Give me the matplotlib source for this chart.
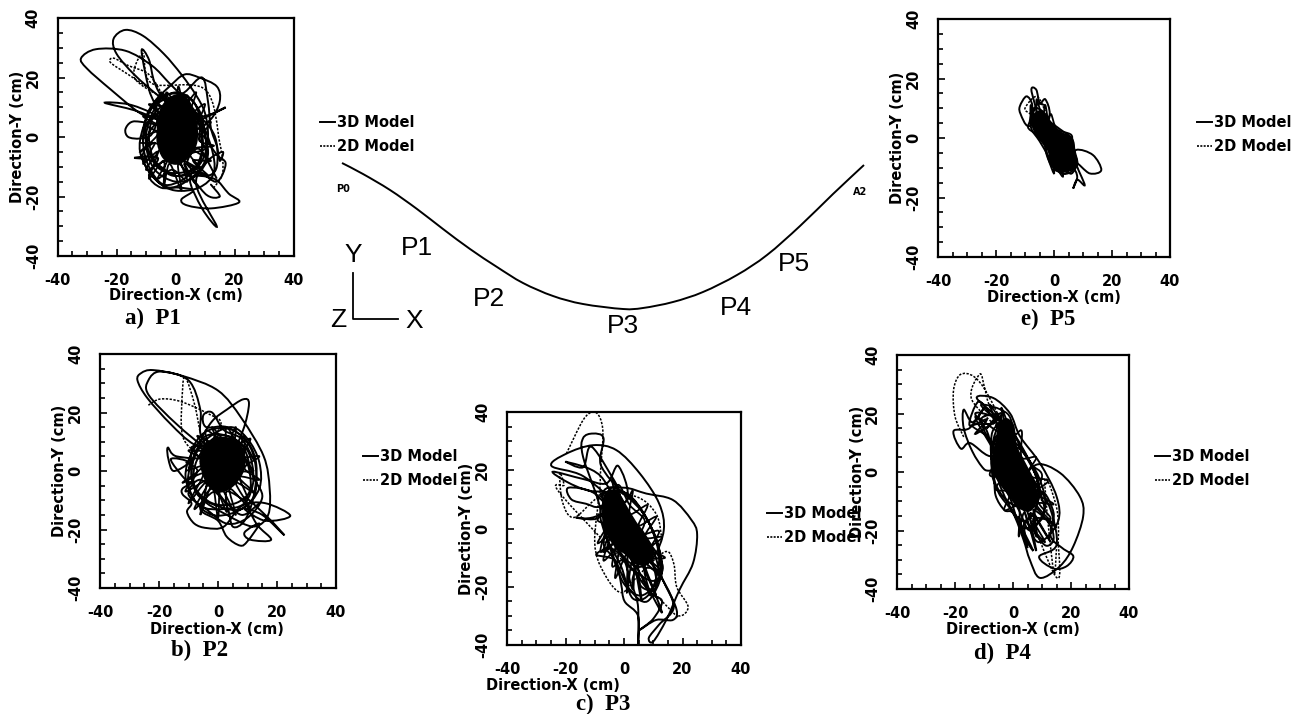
import numpy as np
import matplotlib
matplotlib.use("Agg")
import matplotlib.pyplot as plt
from matplotlib.legend import Legend
from matplotlib.lines import Line2D
from matplotlib.path import Path
from matplotlib.patches import PathPatch

W, H = 1304, 714

# orbit data, (x, y) in cm
# _3d, _loops and _mesh: the solid trace, _core: outline of the solid black middle, _2d: the dotted trace
p1_3d = [(2,8),(-6,14),(-14,21),(-20,28),(-21,33),(-17,36),(-11,34),(-4,28),(2,21),(7,14),(10,8),(11,0),(9,-8),(3,-14),
         (-4,-16),(-9,-10),(-11,-2),(-10,6),(-7,12),(-2,17),(3,21),(8,20),(14,17),(15,12),(12,6),(6,2),(0,3),(-8,8),(-16,11),(-24,11.5),
         (-14,9),(-6,6),(-12,8),(-22,16),(-30,23),(-32,26.5),(-27,29.5),(-17,29),(-8,24),(-2,18),(4,12),(9,7),(17,10),(10,6.5),(2,3),
         (-11,5),(-15,5),(-17,2.5),(-16,0),(-12,-0.5),(-8,1),(-6,8),(-9,16),(-11.5,29),(-9,26),(-7,18),(-3,12),(3,15),(9,20),(11,12),
         (12,3),(14,-3),(15,-8),(16,-5),(11,-8),(7,-16),(14,-30),(9,-24),(5,-14),(13,-14),(18,-19),(21.5,-22),(12,-24),(4,-23),(2,-21),
         (6,-18),(1,-17),(-5,-17),(-9,-13),(-6,-7),(-14,-7),(-8,-8),(0,-13),(8,-12),(14,-15),(17,-9),(14,-6),(8,1),(3,-8),(10,-19),(15,-20),(12,-16)]
p1_loops = [(-11,2),(-9,9),(-4,14),(3,14),(8,9),(10,1),(10,-8),(5,-14),(-2,-17),(-8,-13),(-12,-5),(-11,3),(-7,11),(0,15),(6,12),(9,4),(11,-6),(7,-13),(0,-15),
            (-7,-11),(-10,-3),(-9,5),(-5,12),(2,12),(8,6),(9,-4),(6,-11),(-1,-13),(-7,-8),(-9,0),(-7,8),(-2,11),(5,10),(9,0),(8,-9),(2,-12),(-5,-11),(-9,-5),(-10,4),
            (-3,9),(7,7),(12,-3),(13,-12),(8,-17),(0,-18),(-6,-15),(-11,-8),(-10,-3),(-7,4),(5,8),(13,1),(14,-10),(10,-13),(4,-9),(8,-4),(14,-14)]
p1_mesh = [(-12,0),(-5,3),(-11,7),(-4,7),(-9,11),(-2,10),(-5,15),(0,12),(1,17),(3,11),(7,15),(5,8),(10,11),(7,3),(12,5),(8,-1),(13,-3),(6,-4),(12,-8),(6,-8),(11,-13),
           (3,-9),(7,-16),(1,-9),(2,-18),(-2,-9),(-4,-17),(-4,-8),(-9,-14),(-6,-5),(-11,-9),(-7,-2),(-12,-5),(-6,1),(-10,4),(-7,7),(-7,12),(-3,9),(-3,15),(2,9),(4,14),(6,6),
           (9,7),(8,0),(10,-4),(5,-6),(9,-11),(2,-8),(4,-15),(-1,-11),(-6,-14),(-3,-8),(-10,-11),(-5,-3),(-12,-2)]
p1_core = [(-6,3),(-5,9),(-2,13),(2,14),(5,11),(7,5),(7,-2),(4,-7),(0,-9),(-4,-7),(-6,-2),(-6,3)]
p1_2d = [(-10,17),(-16,21),(-22,25),(-21,26.5),(-16,24),(-9,21),(-5,14),(-14,20),(-11,28),(-8,18),(10,16),(15,-2),(16,-12),(13,-17)]

p2_3d = [(4,4),(-8,9),(-16,16),(-24,25),(-27.3,31),(-26,33.5),(-22,34.5),(-12,32.5),(0,27.5),(8,18),(15.5,5),(17.5,-6),(17,-15),(12,-19),(3,-15),(-6,-9),
         (-9,0),(-6,10),(-2,17),(3,21),(8.5,24.5),(10.5,23),(8.5,14),(4,6),(-4,8),(-14,16),(-23.5,26),(-23.6,31),(-19.6,34),(-10,31),(-6,21),(-6,13),(-3,5),
         (-14,5),(-17,8),(-16.8,4),(-15,0),(-10,3),(-16,4),(-11,-3),(-9,-4),(-12,-6),(-12,-8),(-9,-11),(-10.5,-14),(-8,-18),(-3.8,-19.5),(2,-19),(8,-12),
         (16,-11),(24.5,-15.3),(16,-17),(9,-13),(15,-15),(22.5,-22),(17,-16),(9,-9),(13,-18),(18,-23.5),(11,-23.5),(9,-21),(14,-18),(10,-24),(7.5,-25.5),(3,-22.5),
         (0,-17),(-6,-13),(-2,-6),(3,-12),(5,-19),(9,-17),(12,-9),(13,2),(10,10),(3,15),(-4,15),(-5,19),(-2,20),(2,14),(8,11),(12,4)]
p2_loops = [(-10,0),(-8,9),(-3,14),(5,14),(11,8),(13,-1),(12,-9),(6,-14),(-2,-15),(-8,-10),(-11,-2),(-9,6),(-4,12),(3,12),(10,7),(12,-3),(9,-11),(2,-13),(-6,-12),(-10,-5),
            (-9,3),(-5,10),(4,15),(10,11),(14,3),(14,-6),(8,-13),(0,-12),(-7,-8),(-9,0),(-6,8),(2,10),(9,5),(11,-6),(6,-11),(-2,-11),(-8,-5),(-7,4),(0,12),(8,9),(12,-2),(15,-9),
            (10,-16),(3,-18),(-4,-13),(-10,-8),(-6,-3),(1,-9),(8,-15),(14,-11)]
p2_mesh = [(-11,0),(-4,3),(-10,7),(-3,7),(-7,12),(0,9),(-2,15),(3,10),(6,15),(6,9),(11,11),(8,5),(14,5),(9,1),(14,-3),(7,-2),(13,-8),(6,-4),(11,-13),(4,-6),(6,-15),(1,-6),
           (0,-16),(-2,-5),(-6,-15),(-4,-4),(-10,-11),(-5,-1),(-12,-4),(-5,2),(-9,8),(-4,9),(-4,14),(2,10),(3,15),(7,9),(9,12),(9,4),(12,0),(7,-1),(10,-10),(3,-7),(3,-14),
           (-1,-7),(-8,-13),(-3,-3),(-11,-7),(-7,0),(-11,3)]
p2_core = [(-6,3),(-5,8),(-1,11),(4,11),(8,8),(9,3),(8,-1),(5,-5),(1,-7),(-3,-5),(-5,-1),(-6,3)]
p2_2d = [(-23.6,22.5),(-19.6,24.6),(-12.8,23.8),(-3.8,19.8),(1,16),(-6,7),(-12,12),(-12,28),(-11,32),(-8,23),(-6,13)]

p3_3d = [(-2,8),(-14,18),(-24.8,21.5),(-19.7,25.7),(-10.6,28.6),(-2.6,26.9),(5.4,18.9),(12,8.6),(13.6,-0.5),(10,-10),(4,-13),(-3,-5),(-7.2,12),(0,14),(7.6,12),
         (16.7,9.8),(23,3),(25,-2),(23.6,-11.9),(19,-21),(14.5,-31.3),(10,-38.8),(8.5,-37.5),(12,-33),(17,-27),(13,-17),(9,-7),(3,-17),(4.8,-26.8),(4.8,-39.9),(4.8,-30),
         (0.2,-25),(-1,-19),(-3,-11),(-9.5,-9),(-4,-7),(2,-13),(9,-22),(13,-25),(10,-31),(5.4,-34.8),(11,-31.4),(16.7,-31.4),(18,-28),(14,-19),(8,-10),(0,-3),
         (-7,-8),(-4,3),(-10,12),(-19,14),(-18,10),(-13,8.5),(-8.3,7.5),(-2,12),(-12,13),(-19.5,16),(-24.3,19.5),(-14,17),(-6,15.5),(-2,21.5),(1,10),(-10,4),(-16.3,3.8),(-8,5),
         (-14,24.6),(-14,31),(-10.6,32.6),(-7,31),(-8,22),(-2,14),(-11,28),(-14,21),(-20,23),(-8,18),(0,2),(8,-16),(13,-29),(6,-16)]
p3_loops = [(-7,9),(-4,14),(3,10),(9,1),(12,-7),(12,-17),(6,-23),(0,-19),(-4,-9),(-7,2),(-6,11),(1,12),(8,3),(12,-10),(9,-22),(3,-24),(-1,-13),(-6,-3),(-8,6),(-3,13),(6,6),(11,-4),(13,-15),(8,-25),
            (2,-21),(-3,-11),(-7,-5),(-3,2),(3,-12),(6,-20),(11,-20),(9,-9),(3,3),(-3,10),(5,0),(13,-12),(10,-18),(2,-13),(-4,-4),(-7,4)]
p3_mesh = [(-9,5),(-4,3),(-8,12),(-3,9),(-4,17),(0,9),(3,13),(2,5),(8,8),(5,1),(11,4),(7,-3),(13,-3),(9,-7),(14,-10),(9,-11),(13,-17),(7,-12),(11,-23),(5,-11),(6,-25),(3,-11),(1,-22),
           (1,-9),(-3,-17),(-2,-7),(-7,-11),(-5,-3),(-9,-5),(-6,1),(-9,3),(-5,8),(-2,15),(2,8),(7,3),(6,-2),(12,-1),(8,-9),(12,-14),(7,-14),(9,-23),(4,-13),(3,-21),(0,-11),(-4,-13),
           (-3,-5),(-8,-8),(-6,0)]
p3_core = [(-7,10),(-5,13),(-2,12),(1,7),(4,2),(7,-2),(10,-8),(8,-12),(4,-12),(1,-9),(-3,-6),(-6,-1),(-7,4),(-7,10)]
p3_2d = [(-19.7,25.7),(-14,37.2),(-10.6,40),(-8.3,38.2),(-7.2,32.6),(-8,20),(-8.3,13.2),(-10,-5),(-7,-15),(-1,-22),(5,-16),
         (14,-8),(17,-12),(18,-20),(21.9,-26.8),(19,-30),(14,-26),(-21,11),(-20.5,15),(-22,19),(-21,9),(-17,3.8),(-8,11),(4,11),(11,5),(13,-4)]

p4_3d = [(2,6),(-5,18),(-12.5,25.3),(-6.8,25.3),(-1,20),(2.4,12.2),(9.3,3),(15,-8.3),(15.5,-17),(9,-24),(5,-17),(3,-5),(8.1,2.5),(16.2,-.3),(23,-8.3),(24.2,-15.1),
         (20.8,-25.4),(16.2,-32.2),(9.3,-36.2),(5.8,-30),(3.6,-23.1),(0,-14),(-5,-7),(-7,1),(-1,8),(-7.9,5.4),(-14.8,9.9),(-18,8),(-20.5,14),(-15,15),(-10,22),(-14,17),(-17,21.3),
         (-17,15),(-14,7),(-10,1),(-6.8,-.3),(-6,-8),(-3,-13),(0,-14),(4,-21),(7,-27),(3,-20),(7,-15),(8,-22),(4,-9),(12,-17),(14,-23),(11,-25),(7,-18),(10,-7),
         (14,-14),(13,-22),(17,-26),(20.8,-28.8),(18.5,-32.2),(14,-33),(9,-29),(15,-25),(13,-13),(8,-4),(3,3),(-3,13),(-8,20),(-12,24),(-15,16),(-9,18),(-13,13),(-5,18)]
p4_loops = [(-5,20),(-11,18),(-7,10),(-4,19),(-9,15),(-4,20),(-7,8),(2,8),(8,-1),(8,-10),(3,-12),(-3,-9),(-7,-1),(-7,9),(-2,12),(4,6),(9,-5),(7,-14),(2,-16),(-5,-3),(-6,12),(3,3),(10,-9),(10,-16),(3,-19),
            (-1,-9),(-7,3),(-7,14),(-2,16),(3,8),(9,-2),(11,-12),(6,-20),(2,-13),(-5,1),(-9,14),(-13,20),(-7,19),(-1,15),(7,1),(10,-10)]
p4_mesh = [(-7,8),(-13,19),(-5,14),(-8,23),(-3,16),(-4,22),(0,13),(3,14),(3,5),(8,5),(5,-1),(12,-3),(8,-7),(14,-11),(8,-11),(15,-19),(7,-13),(13,-24),(6,-14),(8,-27),(4,-14),(2,-22),(2,-12),
           (-3,-13),(-1,-7),(-6,-6),(-4,-2),(-8,-1),(-6,5),(-9,12),(-14,16),(-6,17),(-11,23),(-2,20),(1,12),(6,3),(10,-1),(8,-9),(13,-16),(7,-16),(11,-24),(4,-17),(5,-26),(2,-15)]
p4_core = [(-7,5),(-5,13),(-3,18),(0,16),(1,9),(4,3),(7,-3),(8,-9),(6,-13),(2,-12),(-2,-7),(-5,-3),(-7,1),(-7,5)]
p4_2d = [(-17,12),(-20,19),(-20.5,28),(-18.2,33.3),(-13.6,32.7),(-9,27),(-3,14),(-14.2,24.7),(-11.4,33.5),(-9.6,28.1),(-6.8,19),(14,-34.5),(15.6,-23.1),(15,-12),(11,-3),(14,-34),(15,-26)]

p5_3d = [(-5,6),(-9,4),(-11.5,8),(-11.8,10.6),(-9.5,14),(-7.5,11),(-8.4,4.9),(-6,8),(-7.8,16.2),(-6.1,16.2),(-4.9,11.7),(-3,13),(-1.5,8),(-4,2),(0,-1),(-3,-3),(-1,-9),(3,-12),
         (5,-11),(6,-8),(7.7,-4),(13.4,-5.7),(16.3,-10.8),(12.3,-11.9),(7.7,-8.5),(10.6,-15.8),(8,-14),(6.6,-17),(8,-13),(6,-10),(0,-11)]
p5_loops = [(-8,5),(-7,10),(-4,9),(-2,6),(2,3),(6,0),(7,-4),(7,-10),(4,-12),(0,-10),(-2,-6),(-5,-1),(-8,4),(-6,11),(-3,11)]
p5_mesh = [(-8,5),(-8,11),(-6,5),(-6,13),(-4,7),(-3,11),(-2,6),(-1,8),(1,3),(6,1),(6,-3),(8,-8),(6,-12),(3,-10),(3,-13),(0,-9),(0,-12),(-2,-7),(-3,-3),(-6,1),(-9,4),(-5,9)]
p5_core = [(-8,7),(-5,9),(-3,8),(-1,5),(2,2),(6,0),(7,-4),(8,-9),(5,-11),(1,-11),(-1,-8),(-2,-4),(-5,0),(-7,3),(-8,7)]
p5_2d = [(-8,8),(-10,10),(-6,14),(-3,9)]

# curve of the cable, pixel positions in the page
cable_x = [342,363,390,417,443,470,497,523,553,583,623,643,673,703,737,767,800,833,864]
cable_y = [163,174,190,209,229,249,267,283,296,304,309,308,302,292,275,255,226,194,165]

point_labels = ["P1", "P2", "P3", "P4", "P5"]
point_lx = [417, 489, 623, 736, 794]
point_ly = [248, 299, 326, 308, 264]

major = [-40, -20, 0, 20, 40]
minor = list(range(-40, 41, 5))

# panel layout: box in pixels (left, right, top, bottom)
panels = [
    dict(box=(57.5, 293.5, 18, 256), series=(p1_3d, p1_loops, p1_mesh, p1_core, p1_2d), cap="a)  P1", xl=(176, 296), cp=(153, 318), leg=(320, 115)),
    dict(box=(100, 336, 354, 588), series=(p2_3d, p2_loops, p2_mesh, p2_core, p2_2d), cap="b)  P2", xl=(217, 629), cp=(200, 650), leg=(363, 449)),
    dict(box=(507, 741, 412, 645), series=(p3_3d, p3_loops, p3_mesh, p3_core, p3_2d), cap="c)  P3", xl=(553, 685), cp=(603, 704), leg=(767, 506)),
    dict(box=(897, 1129, 355, 589), series=(p4_3d, p4_loops, p4_mesh, p4_core, p4_2d), cap="d)  P4", xl=(1013, 630), cp=(1002, 653), leg=(1155, 449)),
    dict(box=(938, 1170, 19, 257), series=(p5_3d, p5_loops, p5_mesh, p5_core, p5_2d), cap="e)  P5", xl=(1054, 298), cp=(1048, 319), leg=(1197, 115)),
]


def smooth_path(points):
    """Cubic curve running through the read points"""
    pts = np.array(points, dtype=float)
    verts = [pts[0]]
    codes = [Path.MOVETO]
    for i in range(len(pts) - 1):
        before = pts[max(i - 1, 0)]
        after = pts[min(i + 2, len(pts) - 1)]
        verts += [pts[i] + (pts[i + 1] - before) / 6, pts[i + 1] - (after - pts[i]) / 6, pts[i + 1]]
        codes += [Path.CURVE4] * 3
    return Path(verts, codes)


plt.rcParams["font.family"] = ["DejaVu Sans"]
plt.rcParams["axes.unicode_minus"] = False
fig = plt.figure(figsize=(W / 100, H / 100), dpi=100, facecolor="white")

# page axes in pixels for the middle sketch and the captions
page = fig.add_axes([0, 0, 1, 1], zorder=5)
page.set_xlim(0, W)
page.set_ylim(H, 0)
page.axis("off")
page.patch.set_alpha(0)

for pn in panels:
    l, r, t, b = pn["box"]
    ax = fig.add_axes([l / W, 1 - b / H, (r - l) / W, (b - t) / H])
    orbit, loops, mesh, core, model2d = pn["series"]
    ax.add_patch(PathPatch(smooth_path(orbit), fill=False, ec="black", lw=1.4, capstyle="round"))
    ax.add_patch(PathPatch(smooth_path(loops), fill=False, ec="black", lw=1.4))
    ax.add_patch(PathPatch(smooth_path(mesh), fill=False, ec="black", lw=1.3))
    ax.add_patch(PathPatch(smooth_path(core), fc="black", ec="black", lw=1.5))
    ax.add_patch(PathPatch(smooth_path(model2d), fill=False, ec="black", lw=1.1, ls=(0, (1.5, 1))))
    ax.set_xlim(-40, 40)
    ax.set_ylim(-40, 40)
    ax.set_xticks(major)
    ax.set_yticks(major)
    ax.set_xticks(minor, minor=True)
    ax.set_yticks(minor, minor=True)
    ax.tick_params(which="major", direction="in", length=5, width=1.2, pad=12, labelsize=10.5)
    ax.tick_params(which="minor", direction="in", length=3.5, width=1.2)
    for lab in ax.get_xticklabels() + ax.get_yticklabels():
        lab.set_fontweight("bold")
    for lab in ax.get_yticklabels():
        lab.set_rotation(90)
        lab.set_va("center")
    for sp in ax.spines.values():
        sp.set_linewidth(1.6)
    ax.set_ylabel("Direction-Y (cm)", fontsize=10.5, fontweight="bold", va="center")
    ax.yaxis.set_label_coords(-40 / (r - l), 0.5)
    page.text(pn["xl"][0], pn["xl"][1], "Direction-X (cm)", fontsize=10.5, fontweight="bold", ha="center", va="center")
    page.text(pn["cp"][0], pn["cp"][1], pn["cap"], fontsize=16.5, ha="center", va="center", family="Liberation Serif", weight="bold")
    handles = [Line2D([], [], color="black", lw=1.4), Line2D([], [], color="black", lw=1.2, ls=(0, (1.2, 0.8)))]
    leg = Legend(page, handles, ["3D Model", "2D Model"], loc="upper left", frameon=False,
                 prop=dict(size=10.5, weight="bold"),
                 bbox_to_anchor=(pn["leg"][0] / W, 1 - pn["leg"][1] / H), bbox_transform=fig.transFigure,
                 borderpad=0, borderaxespad=0, handlelength=1.0, handletextpad=0.15, labelspacing=0.65)
    page.add_artist(leg)

# middle sketch
page.add_patch(PathPatch(smooth_path(list(zip(cable_x, cable_y))), fill=False, ec="black", lw=1.4))
for name, lx, ly in zip(point_labels, point_lx, point_ly):
    page.text(lx, ly, name, fontsize=19, ha="center", va="center", family="Liberation Sans")
page.text(343, 189, "P0", fontsize=7, fontweight="bold", ha="center", va="center")
page.text(860, 192, "A2", fontsize=7, fontweight="bold", ha="center", va="center")
page.plot([353, 353, 398], [273, 319, 319], color="black", lw=1.3)
page.text(353, 255, "Y", fontsize=19, ha="center", va="center", family="Liberation Sans")
page.text(338, 320, "Z", fontsize=19, ha="center", va="center", family="Liberation Sans")
page.text(414, 321, "X", fontsize=19, ha="center", va="center", family="Liberation Sans")

fig.savefig("out.png", dpi=100)
